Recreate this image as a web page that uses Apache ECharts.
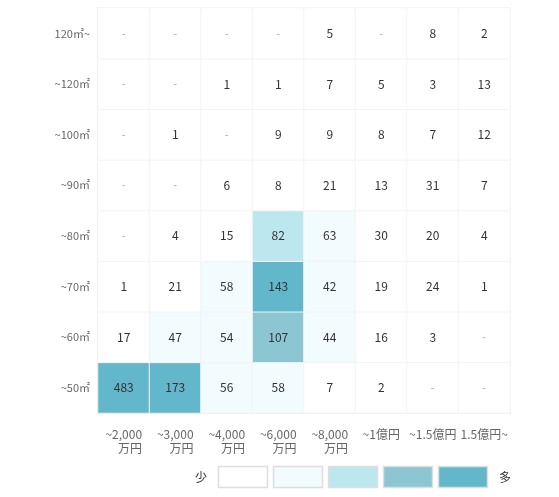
<!DOCTYPE html>
<html>
<head>
<meta charset="utf-8">
<script src="https://cdn.jsdelivr.net/npm/echarts@6/dist/echarts.min.js"></script>
<style>
  html, body { margin: 0; padding: 0; background: #fff; }
  #chart { width: 559px; height: 497px; }
</style>
</head>
<body>
<div id="chart"></div>
<script>
const priceLabels = ['~2,000\n万円', '~3,000\n万円', '~4,000\n万円', '~6,000\n万円', '~8,000\n万円', '~1億円', '~1.5億円', '1.5億円~']
const areaLabels = ['~50㎡', '~60㎡', '~70㎡', '~80㎡', '~90㎡', '~100㎡', '~120㎡', '120㎡~']

// one row per area band, bottom to top; '-' = no listings
const row50 = [483, 173, 56, 58, 7, 2, '-', '-']
const row60 = [17, 47, 54, 107, 44, 16, 3, '-']
const row70 = [1, 21, 58, 143, 42, 19, 24, 1]
const row80 = ['-', 4, 15, 82, 63, 30, 20, 4]
const row90 = ['-', '-', 6, 8, 21, 13, 31, 7]
const row100 = ['-', 1, '-', 9, 9, 8, 7, 12]
const row120 = ['-', '-', 1, 1, 7, 5, 3, 13]
const row120up = ['-', '-', '-', '-', 5, '-', 8, 2]

const pieceColors = ['#ffffff', '#f2fbfd', '#bde7ef', '#8dc6d3', '#62b7cb']
const pieceBreaks = [0, 40, 80, 100, 140]
const lowText = '少\u2002'
const highText = '\u2002多'

const rows = [row50, row60, row70, row80, row90, row100, row120, row120up]
const cells = []
rows.forEach((r, y) => r.forEach((v, x) => {
  if (v === '-') {
    cells.push({ value: [x, y, 0], label: { formatter: '-', color: '#aaa', fontSize: 11 } })
  } else {
    cells.push([x, y, v])
  }
}))

const font = '"Noto Sans CJK JP", "Noto Sans", sans-serif'

// legend geometry: piecewise visualMap lays out [text, items..., text] with one gap
const itemW = 50, itemH = 22, itemGap = 5, vmTop = 466, firstItemX = 218
const ctx = document.createElement('canvas').getContext('2d')
ctx.font = '12px ' + font
const endTextW = ctx.measureText(lowText).width
const vmLeft = firstItemX - itemGap - endTextW
const legendBoxes = pieceColors.map((c, i) => ({
  type: 'rect',
  silent: true,
  z: 100,
  shape: { x: firstItemX + i * (itemW + itemGap) + 0.5, y: vmTop + 0.5, width: itemW - 1, height: itemH - 1 },
  style: { fill: 'none', stroke: '#dedede', lineWidth: 1.5 }
}))

const chart = echarts.init(document.getElementById('chart'))
chart.setOption({
  textStyle: { fontFamily: font },
  grid: { left: 98, right: 49, top: 8, bottom: 84, show: true, borderColor: '#f3f3f3', borderWidth: 1 },
  xAxis: {
    type: 'category',
    data: priceLabels,
    axisLine: { lineStyle: { color: '#e6e6e6', width: 2 } },
    axisTick: { show: false },
    splitLine: { show: true, lineStyle: { color: '#f2f2f2' } },
    axisLabel: {
      color: '#666',
      fontSize: 12,
      margin: 14,
      interval: 0,
      lineHeight: 14,
      formatter: v => v.split('\n').map(s => '{l|' + s + '}').join('\n'),
      rich: { l: { align: 'right', fontSize: 12, lineHeight: 14, color: '#666' } }
    }
  },
  yAxis: {
    type: 'category',
    data: areaLabels,
    axisLine: { lineStyle: { color: '#e6e6e6', width: 2 } },
    axisTick: { show: false },
    splitLine: { show: true, lineStyle: { color: '#f2f2f2' } },
    axisLabel: { color: '#666', fontSize: 11, margin: 8 }
  },
  visualMap: {
    type: 'piecewise',
    orient: 'horizontal',
    left: vmLeft,
    top: vmTop,
    padding: 0,
    itemWidth: itemW,
    itemHeight: itemH,
    itemGap: itemGap,
    itemSymbol: 'rect',
    text: [highText, lowText],
    textStyle: { color: '#333', fontSize: 12 },
    showLabel: false,
    pieces: pieceColors.map((c, i) => (
      i < pieceColors.length - 1
        ? { min: pieceBreaks[i], max: pieceBreaks[i + 1], color: c }
        : { min: pieceBreaks[i], color: c }
    ))
  },
  graphic: legendBoxes,
  series: [{
    type: 'heatmap',
    data: cells,
    label: { show: true, color: '#333', fontSize: 12 },
    itemStyle: { borderColor: '#f3f3f3', borderWidth: 1 },
    emphasis: { disabled: true }
  }]
})
</script>
</body>
</html>
